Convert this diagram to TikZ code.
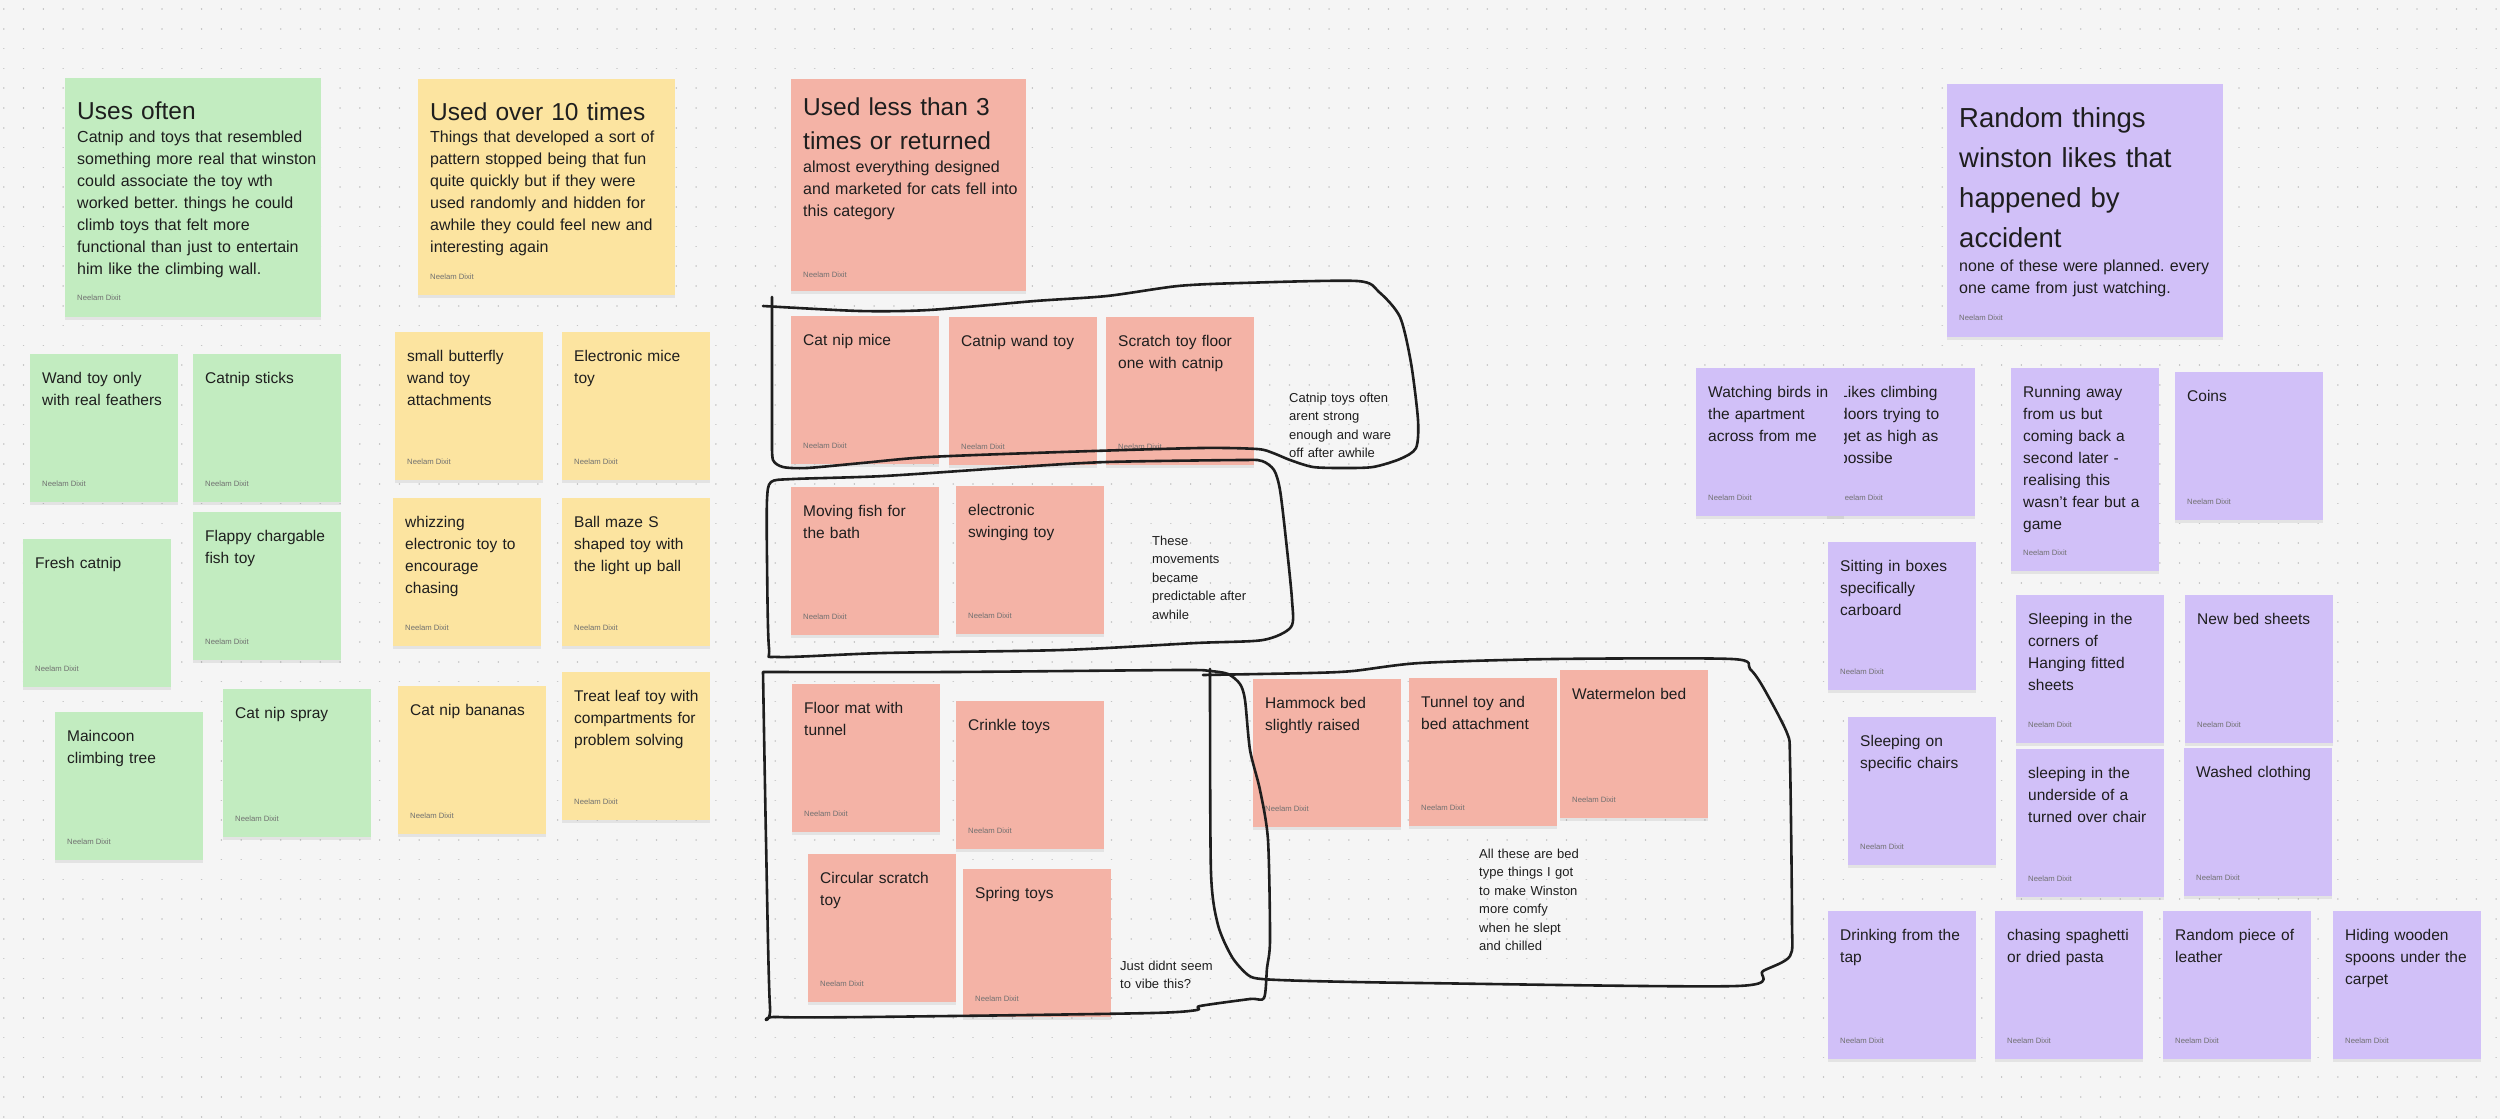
\documentclass[tikz,border=0pt]{standalone}
\usepackage{fontspec}
\setmainfont{Liberation Sans}
\usepackage{tikz}
\usetikzlibrary{shadows}
\definecolor{boardgray}{RGB}{245,245,245}
\definecolor{dotgray}{RGB}{196,196,196}
\definecolor{inkblack}{RGB}{30,30,30}
\definecolor{authorgray}{RGB}{112,112,112}
\definecolor{stickygreen}{RGB}{194,236,192}
\definecolor{stickyyellow}{RGB}{252,228,160}
\definecolor{stickyred}{RGB}{244,179,166}
\definecolor{stickypurple}{RGB}{209,192,248}
\frenchspacing
\hyphenpenalty=10000

\begin{document}
\begin{tikzpicture}[
  x=1pt, y=-1pt,
  note/.style={rectangle, anchor=north west, inner sep=0pt,
               minimum width=148pt, minimum height=148pt,
               drop shadow={shadow xshift=0pt, shadow yshift=-3pt,
                            opacity=0.07, fill=black}},
  notetxt/.style={anchor=base west, inner sep=0pt, text width=140pt,
                  align=left, text=inkblack,
                  font=\fontsize{15.5}{22}\selectfont},
  hdrttl/.style={anchor=base west, inner sep=0pt, text width=270pt,
                 align=left, text=inkblack,
                 font=\fontsize{24.5}{34}\selectfont},
  hdrtxt/.style={anchor=base west, inner sep=0pt, text width=270pt,
                 align=left, text=inkblack,
                 font=\fontsize{16}{22}\selectfont},
  author/.style={anchor=base west, inner sep=0pt, text=authorgray,
                 font=\fontsize{7.7}{9}\selectfont},
  memo/.style={anchor=base west, inner sep=0pt, text width=120pt,
               align=left, text=inkblack,
               font=\fontsize{13}{18.5}\selectfont},
  ink/.style={draw=inkblack, line width=2.6pt, line cap=round,
              line join=round},
  dotrow/.style={draw=dotgray, line width=1.6pt, line cap=round,
                 dash pattern=on 0.01pt off 19.77pt}
]
  \useasboundingbox (0,0) rectangle (2500,1119);
  \fill[boardgray] (0,0) rectangle (2500,1119);
  \foreach \j in {0,...,56}
    \draw[dotrow] (3.8,9.1+19.78*\j) -- (2500,9.1+19.78*\j);

  % column headers
  \node[note, fill=stickygreen, minimum width=256pt, minimum height=239pt] (often) at (65,78) {};
  \node[hdrttl] (often-ttl) at ([shift={(12,41)}]often.north west) {Uses often};
  \node[hdrtxt] (often-txt) at ([shift={(12,64)}]often.north west)
    {Catnip and toys that resembled\\something more real that winston\\could associate the toy wth\\worked better. things he could\\climb toys that felt more\\functional than just to entertain\\him like the climbing wall.};
  \node[author] at ([shift={(12,-17)}]often.south west) {Neelam Dixit};

  \node[note, fill=stickyyellow, minimum width=257pt, minimum height=216pt] (ten) at (418,79) {};
  \node[hdrttl] (ten-ttl) at ([shift={(12,41)}]ten.north west) {Used over 10 times};
  \node[hdrtxt] (ten-txt) at ([shift={(12,63)}]ten.north west)
    {Things that developed a sort of\\pattern stopped being that fun\\quite quickly but if they were\\used randomly and hidden for\\awhile they could feel new and\\interesting again};
  \node[author] at ([shift={(12,-16)}]ten.south west) {Neelam Dixit};

  \node[note, fill=stickyred, minimum width=235pt, minimum height=212pt] (less) at (791,79) {};
  \node[hdrttl] (less-ttl) at ([shift={(12,36)}]less.north west) {Used less than 3\\times or returned};
  \node[hdrtxt] (less-txt) at ([shift={(12,93)}]less.north west)
    {almost everything designed\\and marketed for cats fell into\\this category};
  \node[author] at ([shift={(12,-14)}]less.south west) {Neelam Dixit};

  \node[note, fill=stickypurple, minimum width=276pt, minimum height=253pt] (random) at (1947,84) {};
  \node[hdrttl, font=\fontsize{27.5}{40}\selectfont] (random-ttl) at ([shift={(12,43)}]random.north west)
    {Random things\\winston likes that\\happened by\\accident};
  \node[hdrtxt] (random-txt) at ([shift={(12,187)}]random.north west)
    {none of these were planned. every\\one came from just watching.};
  \node[author] at ([shift={(12,-17)}]random.south west) {Neelam Dixit};

  % sticky notes
  \foreach \n/\x/\y/\t in {gwand/30/354/{Wand toy only\\with real feathers},
      gsticks/193/354/{Catnip sticks}, gfresh/23/539/{Fresh catnip},
      gflappy/193/512/{Flappy chargable\\fish toy}, gtree/55/712/{Maincoon\\climbing tree},
      gspray/223/689/{Cat nip spray}}
  {
    \node[note, fill=stickygreen] (\n) at (\x,\y) {};
    \node[notetxt] (\n-txt) at ([shift={(12,29)}]\n.north west) {\t};
    \node[author] (\n-by) at ([shift={(12,-16)}]\n.south west) {Neelam Dixit};
  }
  \foreach \n/\x/\y/\t in {ybutterfly/395/332/{small butterfly\\wand toy\\attachments},
      ymice/562/332/{Electronic mice\\toy},
      ywhizz/393/498/{whizzing\\electronic toy to\\encourage\\chasing},
      ymaze/562/498/{Ball maze S\\shaped toy with\\the light up ball},
      ybananas/398/686/{Cat nip bananas},
      yleaf/562/672/{Treat leaf toy with\\compartments for\\problem solving}}
  {
    \node[note, fill=stickyyellow] (\n) at (\x,\y) {};
    \node[notetxt] (\n-txt) at ([shift={(12,29)}]\n.north west) {\t};
    \node[author] (\n-by) at ([shift={(12,-16)}]\n.south west) {Neelam Dixit};
  }
  \foreach \n/\x/\y/\t in {rmice/791/316/{Cat nip mice}, rwand/949/317/{Catnip wand toy},
      rscratch/1106/317/{Scratch toy floor\\one with catnip},
      rfish/791/487/{Moving fish for\\the bath}, rswing/956/486/{electronic\\swinging toy},
      rmat/792/684/{Floor mat with\\tunnel}, rcrinkle/956/701/{Crinkle toys},
      rcircle/808/854/{Circular scratch\\toy}, rspring/963/869/{Spring toys},
      rhammock/1253/679/{Hammock bed\\slightly raised},
      rtunnel/1409/678/{Tunnel toy and\\bed attachment},
      rmelon/1560/670/{Watermelon bed}}
  {
    \node[note, fill=stickyred] (\n) at (\x,\y) {};
    \node[notetxt] (\n-txt) at ([shift={(12,29)}]\n.north west) {\t};
    \node[author] (\n-by) at ([shift={(12,-16)}]\n.south west) {Neelam Dixit};
  }
  \foreach \n/\x/\y/\h/\t in {pclimb/1827/368/148/{Likes climbing\\doors trying to\\get as high as\\possibe},
      pbirds/1696/368/148/{Watching birds in\\the apartment\\across from me},
      prun/2011/368/203/{Running away\\from us but\\coming back a\\second later -\\realising this\\wasn't fear but a\\game},
      pcoins/2175/372/148/{Coins},
      pboxes/1828/542/148/{Sitting in boxes\\specifically\\carboard},
      pcorners/2016/595/148/{Sleeping in the\\corners of\\Hanging fitted\\sheets},
      psheets/2185/595/148/{New bed sheets},
      pchairs/1848/717/148/{Sleeping on\\specific chairs},
      punder/2016/749/148/{sleeping in the\\underside of a\\turned over chair},
      pwashed/2184/748/148/{Washed clothing},
      ptap/1828/911/148/{Drinking from the\\tap},
      ppasta/1995/911/148/{chasing spaghetti\\or dried pasta},
      pleather/2163/911/148/{Random piece of\\leather},
      pspoons/2333/911/148/{Hiding wooden\\spoons under the\\carpet}}
  {
    \node[note, fill=stickypurple, minimum height=\h pt] (\n) at (\x,\y) {};
    \node[notetxt] (\n-txt) at ([shift={(12,29)}]\n.north west) {\t};
    \node[author] (\n-by) at ([shift={(12,-16)}]\n.south west) {Neelam Dixit};
  }

  % hand drawn groupings
  \draw[ink] plot[smooth, tension=0.45] coordinates {(763,306) (860,311) (929,310)
    (1035,301) (1107,296) (1178,286) (1241,283) (1357,281) (1379,292) (1400,317)
    (1411,363) (1418,420) (1416,448) (1400,459) (1373,467) (1343,468) (1313,467)
    (1290,460) (1273,453) (1257,449) (1200,448) (1062,452) (929,457) (862,463)
    (807,468) (783,467) (773,460) (772,440)} -- (772,297);
  \draw[ink] plot[smooth cycle, tension=0.45] coordinates {(793,479) (884,476)
    (1018,467) (1107,462) (1241,460) (1262,461) (1274,470) (1280,490) (1286,540)
    (1292,600) (1291,627) (1263,640) (1196,643) (1062,650) (884,653) (778,657)
    (769,648) (767,560) (767,500) (771,482)};
  \draw[ink] plot[smooth, tension=0.45] coordinates {(763,672) (951,672) (1179,670)
    (1210,671) (1228,674) (1240,684) (1245,700) (1250,750) (1260,790) (1268,840)
    (1270,940) (1267,968) (1264,998) (1250,999) (1200,1006) (1197,1010) (1152,1013)
    (951,1016) (778,1017) (770,1007) (766,840) (763,672)};
  \draw[ink] plot[smooth, tension=0.45] coordinates {(1203,675) (1310,673) (1353,671)
    (1420,663) (1554,659) (1732,659) (1750,669) (1763,687) (1787,733) (1790,760)
    (1792,920) (1790,956) (1763,971) (1737,986) (1420,983) (1310,981) (1262,979)
    (1248,975) (1232,957) (1218,925) (1211,873) (1210,700) (1210,669)};

  % notes written beside the groups
  \node[memo] (memo-catnip) at (1289,402) {Catnip toys often\\arent strong\\enough and ware\\off after awhile};
  \node[memo] (memo-move) at (1152,545) {These\\movements\\became\\predictable after\\awhile};
  \node[memo] (memo-vibe) at (1120,970) {Just didnt seem\\to vibe this?};
  \node[memo] (memo-bed) at (1479,858) {All these are bed\\type things I got\\to make Winston\\more comfy\\when he slept\\and chilled};
\end{tikzpicture}
\end{document}
